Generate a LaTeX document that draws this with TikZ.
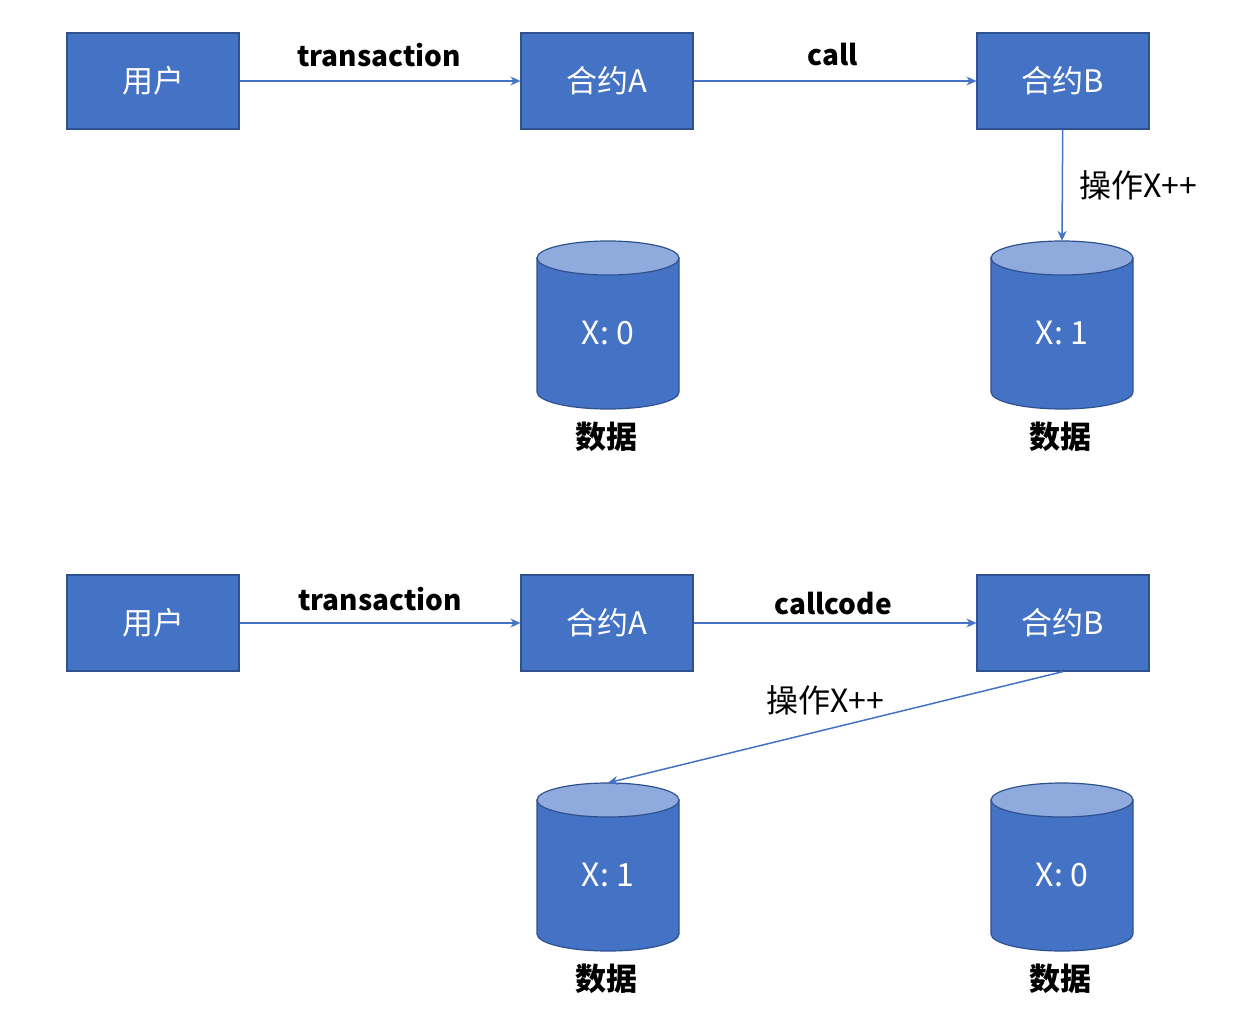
\documentclass[tikz,border=0pt]{standalone}
\usepackage{fontspec}
\setmainfont{Noto Sans CJK SC}
\usetikzlibrary{arrows.meta}
\definecolor{boxblue}{HTML}{4472C4}
\definecolor{edgeblue}{HTML}{2F528F}
\definecolor{topblue}{HTML}{8FAADC}
% data store: #1 name, #2 x, #3 y (centre), #4 text
\newcommand\datastore[4]{%
	\filldraw[fill=boxblue,draw=edgeblue,line width=1.2pt] (#2-71,#3-67) -- (#2-71,#3+67)
		arc[start angle=180,end angle=0,x radius=71,y radius=17] -- (#2+71,#3-67) -- cycle;
	\filldraw[fill=topblue,draw=edgeblue,line width=1.2pt] (#2,#3-67) ellipse[x radius=71,y radius=17];
	\node[minimum width=142pt,minimum height=168pt,inner sep=0pt,label={[dbtext]center:{#4}}] (#1) at (#2,#3) {};}
\begin{document}
\begin{tikzpicture}[x=1pt,y=-1pt,>={Stealth[length=10pt,width=9pt]},
	box/.style={draw=edgeblue,line width=1.2pt,fill=boxblue,text=white,minimum width=172pt,minimum height=96pt,font=\fontsize{31}{34}\selectfont},
	dbtext/.style={text=white,font=\fontsize{32}{34}\selectfont,yshift=-8pt},
	dbname/.style={font=\fontsize{31}{34}\selectfont\bfseries},
	tname/.style={font=\fontsize{28}{32}\selectfont\bfseries},
	lbl/.style={font=\fontsize{32}{34}\selectfont},
	link/.style={->,draw=boxblue,line width=1.5pt}]
	\useasboundingbox (0,0) rectangle (1236,1016);
	% call
	\node[box] (user1) at (153,81) {用户};
	\node[box] (ca1) at (607,81) {合约A};
	\node[box] (cb1) at (1063,81) {合约B};
	\datastore{d1a}{608}{325}{X: 0}
	\datastore{d1b}{1062}{325}{X: 1}
	\node[dbname] (n1a) at (606,437) {数据};
	\node[dbname] (n1b) at (1060,437) {数据};
	\draw[link] (user1) -- (ca1);
	\draw[link] (ca1) -- (cb1);
	\draw[link] (cb1) -- (d1b.north);
	\node[tname] (t1) at (379,55) {transaction};
	\node[tname] (c1) at (833,55) {call};
	\node[lbl] (op1) at (1138,185) {操作X++};
	% callcode
	\node[box] (user2) at (153,623) {用户};
	\node[box] (ca2) at (607,623) {合约A};
	\node[box] (cb2) at (1063,623) {合约B};
	\datastore{d2a}{608}{867}{X: 1}
	\datastore{d2b}{1062}{867}{X: 0}
	\node[dbname] (n2a) at (606,979) {数据};
	\node[dbname] (n2b) at (1060,979) {数据};
	\draw[link] (user2) -- (ca2);
	\draw[link] (ca2) -- (cb2);
	\draw[link] (cb2.south) -- (d2a.north);
	\node[tname] (t2) at (380,599) {transaction};
	\node[tname] (c2) at (833,604) {callcode};
	\node[lbl] (op2) at (825,700) {操作X++};
\end{tikzpicture}
\end{document}
